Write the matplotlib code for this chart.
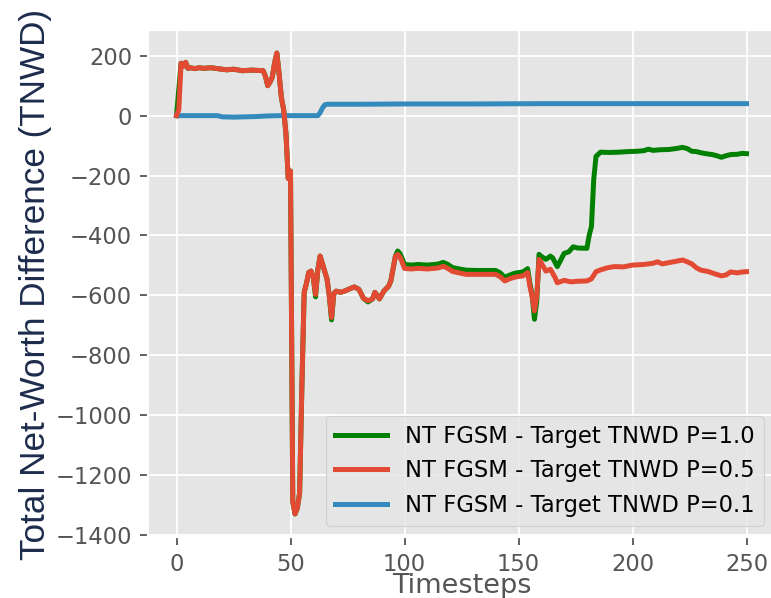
import matplotlib
matplotlib.use("Agg")
import matplotlib.pyplot as plt
from matplotlib import font_manager

plt.style.use("ggplot")

# Timesteps and total net-worth difference for each perturbation probability
t_p10 = [0, 2, 3, 4, 5, 6, 8, 10, 12, 15, 18, 22, 25, 29, 33, 38, 39, 40, 41, 42, 43,
         44, 45, 46, 47, 48, 49, 50, 51, 52, 53, 54, 55, 56, 57, 58, 59, 60, 61, 62,
         63, 64, 65, 66, 67, 68, 69, 70, 72, 74, 76, 78, 80, 82, 84, 86, 87, 88, 89,
         91, 93, 94, 95, 96, 97, 98, 99, 100, 103, 106, 110, 113, 115, 117, 119, 121,
         124, 127, 132, 136, 140, 142, 144, 146, 148, 150, 152, 154, 155, 156, 157,
         158, 159, 160, 162, 164, 165, 167, 168, 170, 172, 174, 176, 180, 181, 182,
         183, 184, 186, 190, 194, 198, 202, 205, 207, 209, 212, 216, 219, 222, 224,
         226, 228, 230, 233, 235, 237, 239, 241, 243, 246, 248, 250]
tnwd_p10 = [0, 175, 165, 178, 158, 160, 157, 160, 158, 160, 157, 153, 155, 150, 152,
            150, 132, 100, 112, 128, 175, 209, 140, 60, 20, -60, -210, -185, -1290,
            -1330, -1310, -1260, -900, -590, -560, -524, -519, -540, -605, -513, -469,
            -495, -520, -545, -600, -682, -595, -586, -590, -585, -578, -572, -580,
            -610, -622, -612, -590, -600, -612, -585, -570, -552, -510, -470, -452,
            -460, -478, -497, -499, -497, -499, -497, -495, -490, -497, -507, -512,
            -516, -517, -517, -517, -525, -540, -533, -527, -524, -522, -511, -560,
            -600, -680, -620, -463, -470, -480, -469, -475, -504, -490, -460, -455,
            -438, -442, -443, -400, -370, -213, -136, -122, -123, -122, -120, -119,
            -117, -112, -116, -114, -113, -110, -106, -110, -119, -120, -124, -128,
            -130, -134, -139, -134, -130, -129, -126, -127]

t_p05 = [0, 1, 2, 3, 4, 5, 6, 8, 10, 12, 15, 18, 22, 25, 29, 33, 38, 39, 40, 41, 42,
         43, 44, 45, 46, 47, 48, 49, 50, 51, 52, 53, 54, 55, 56, 57, 58, 59, 60, 61,
         62, 63, 64, 65, 66, 67, 68, 69, 70, 72, 74, 76, 78, 80, 82, 84, 86, 87, 88,
         89, 91, 93, 94, 95, 96, 97, 98, 99, 100, 103, 106, 110, 113, 115, 117, 119,
         121, 124, 127, 132, 136, 140, 142, 144, 146, 148, 150, 152, 154, 155, 156,
         157, 158, 159, 160, 162, 164, 166, 167, 170, 173, 176, 180, 182, 184, 186,
         189, 192, 196, 200, 205, 209, 211, 213, 218, 222, 224, 226, 228, 230, 233,
         236, 239, 241, 243, 246, 248, 250]
tnwd_p05 = [0, 20, 175, 165, 178, 158, 160, 157, 160, 158, 160, 157, 153, 155, 150,
            152, 150, 132, 100, 112, 128, 175, 209, 140, 60, 20, -60, -210, -185,
            -1290, -1330, -1310, -1260, -900, -590, -560, -524, -519, -540, -597,
            -513, -469, -495, -520, -545, -600, -674, -595, -586, -590, -585, -578,
            -572, -580, -610, -618, -612, -590, -600, -612, -585, -570, -552, -510,
            -470, -463, -472, -490, -510, -512, -510, -512, -510, -508, -503, -510,
            -520, -525, -530, -530, -530, -530, -538, -552, -545, -540, -537, -535,
            -524, -570, -605, -652, -600, -480, -492, -519, -513, -540, -558, -550,
            -555, -553, -552, -545, -521, -515, -508, -504, -505, -499, -497, -493,
            -488, -495, -488, -482, -488, -495, -508, -516, -520, -528, -535, -532,
            -522, -525, -522, -521]

t_p01 = [0, 10, 18, 20, 25, 30, 35, 40, 45, 55, 62, 63, 64, 65, 66, 80, 100, 130,
         160, 200, 230, 250]
tnwd_p01 = [0, 0, 0, -4, -5, -4, -3, -1, 0, 0, 0, 10, 25, 36, 38, 38, 39, 39, 40, 40,
            40, 40]

series_labels = ["NT FGSM - Target TNWD P=1.0",
                 "NT FGSM - Target TNWD P=0.5",
                 "NT FGSM - Target TNWD P=0.1"]

W, H, DPI = 771, 598, 163
fig = plt.figure(figsize=(W / DPI, H / DPI), dpi=DPI)
ax = fig.add_axes([148 / W, 1 - 537 / H, (775 - 148) / W, (537 - 30) / H])

ax.plot(t_p10, tnwd_p10, color="green", lw=2.2, label=series_labels[0], zorder=2)
ax.plot(t_p05, tnwd_p05, color="#E24A33", lw=2.2, label=series_labels[1], zorder=4)
ax.plot(t_p01, tnwd_p01, color="#348ABD", lw=2.2, label=series_labels[2], zorder=3)

ax.set_xlabel("Timesteps", labelpad=-1.2)
ax.set_xticks([0, 50, 100, 150, 200, 250])
ax.set_yticks(range(-1400, 201, 200))

ax.legend(loc="lower right", bbox_to_anchor=(1.0, 0.0), borderaxespad=0.5,
          handlelength=2.3)

narrow = [f for f in ["Liberation Sans Narrow", "Liberation Sans"]
          if any(f == e.name for e in font_manager.fontManager.ttflist)]
fig.text(36 / W, 1 - 285 / H, "Total Net-Worth Difference (TNWD)",
         rotation=90, ha="center", va="center", fontsize=15.5,
         color="#1d2c4c", family=narrow + ["DejaVu Sans"])

fig.savefig("out.png", dpi=DPI)
